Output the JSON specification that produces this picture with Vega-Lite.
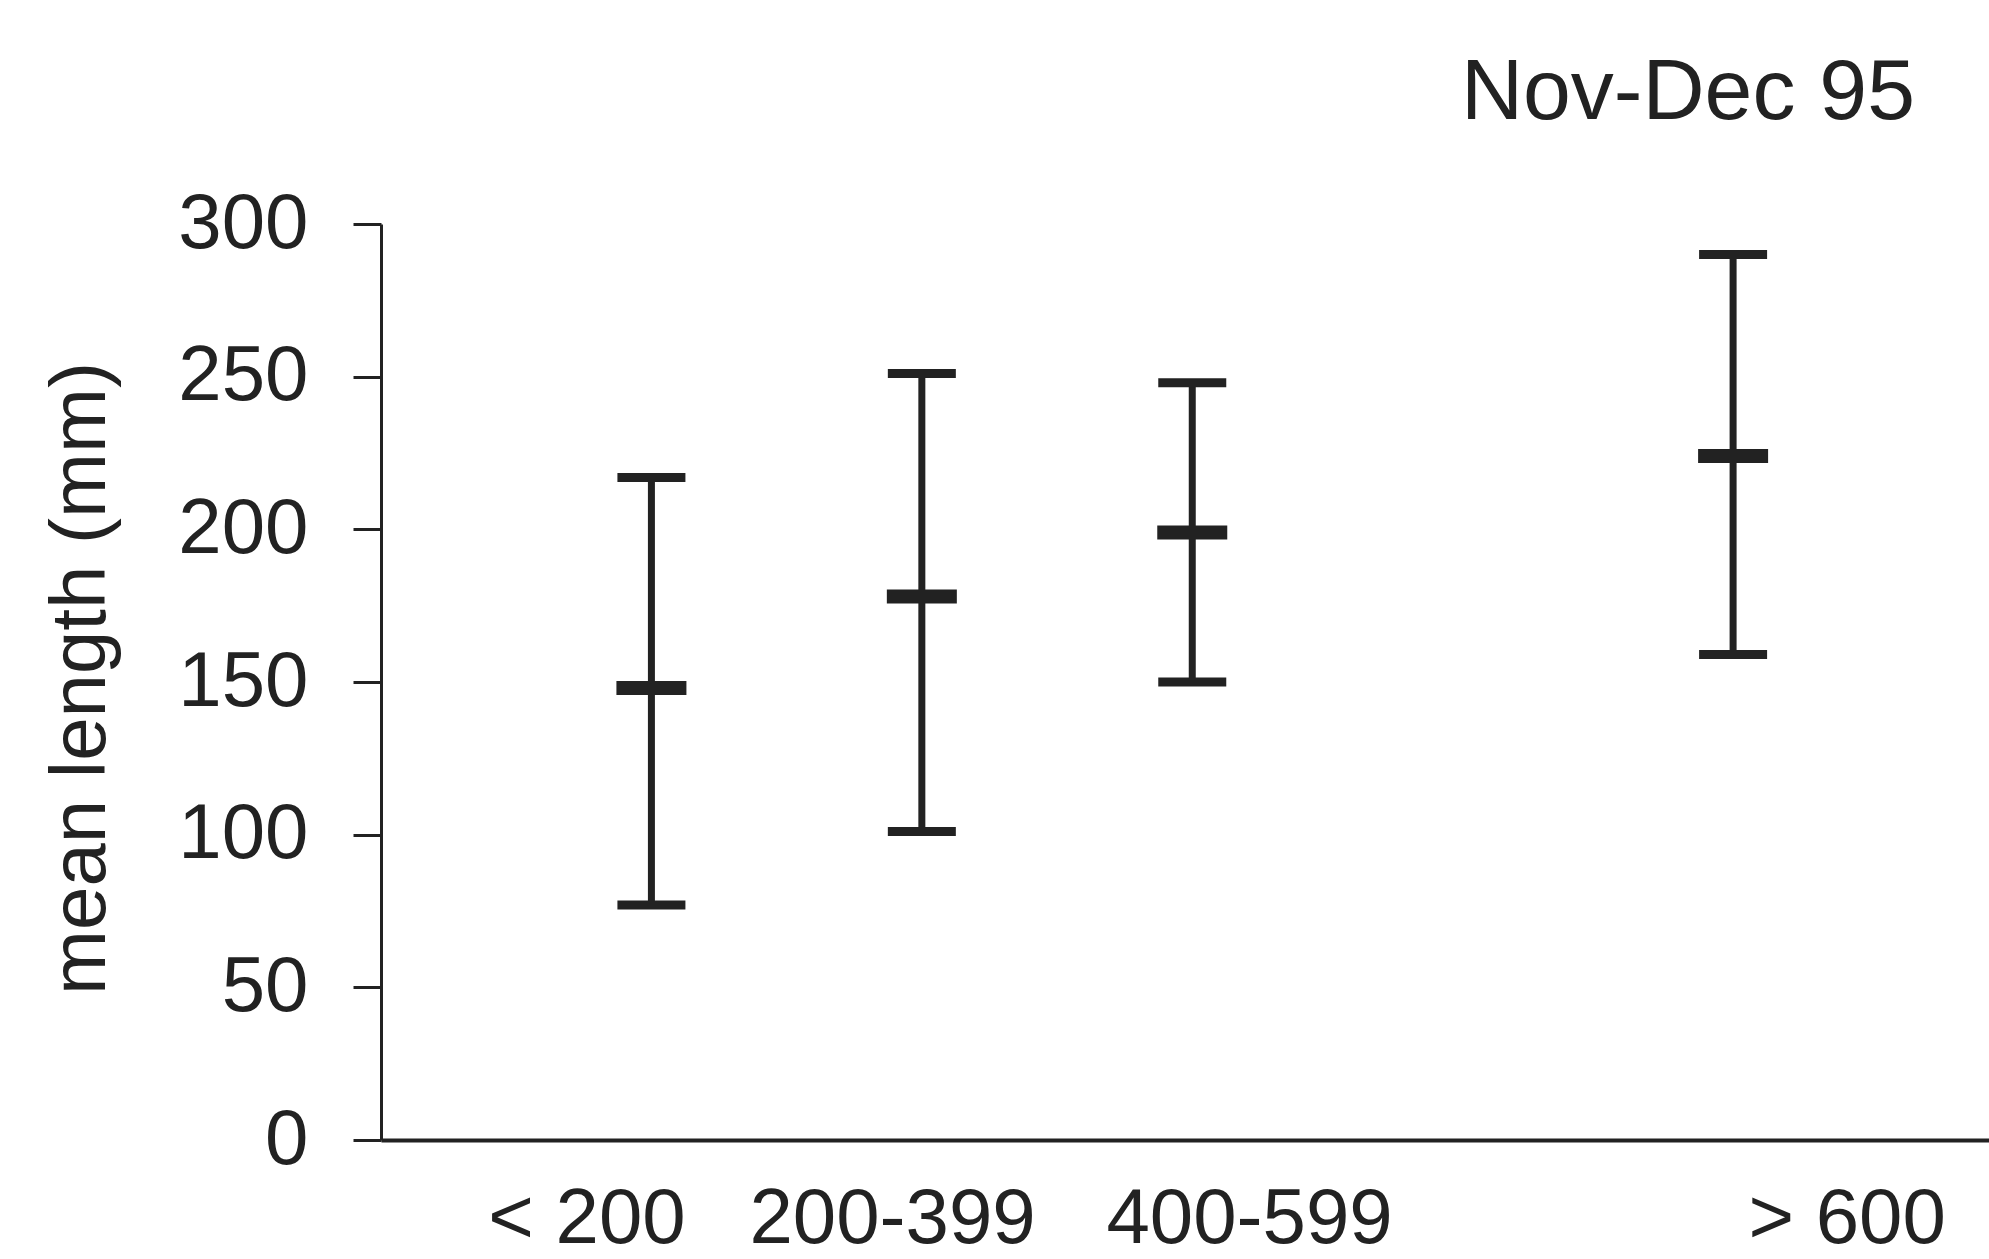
{
  "$schema": "https://vega.github.io/schema/vega-lite/v6.json",
  "width": 1609,
  "height": 916,
  "autosize": {"type": "none"},
  "padding": {"left": 381, "top": 224, "right": 0, "bottom": 119},
  "background": "white",
  "title": {"text": "Nov-Dec 95", "anchor": "end", "frame": "group", "fontSize": 86, "font": "Liberation Sans", "fontWeight": "normal", "color": "#222222", "baseline": "alphabetic", "offset": 101, "dy": 121, "dx": -75},
  "data": {"values": [
    {"cls": "< 200", "pos": 1, "lo": 77, "mean": 148, "hi": 217},
    {"cls": "200-399", "pos": 2, "lo": 101, "mean": 178, "hi": 251},
    {"cls": "400-599", "pos": 3, "lo": 150, "mean": 199, "hi": 248},
    {"cls": "> 600", "pos": 5, "lo": 159, "mean": 224, "hi": 290}
  ]},
  "encoding": {
    "x": {"field": "pos", "type": "quantitative", "scale": {"domain": [0, 5.95], "nice": false, "zero": false},
      "axis": {"title": null, "values": [0.76, 1.89, 3.21, 5.42], "labelLimit": 0, "labelExpr": "datum.value < 1.5 ? '< 200' : datum.value < 2.5 ? '200-399' : datum.value < 4 ? '400-599' : '> 600'"}}
  },
  "layer": [
    {"mark": {"type": "rule", "color": "#222222", "strokeWidth": 7},
     "encoding": {"y": {"field": "lo", "type": "quantitative", "scale": {"domain": [0, 300], "nice": false}, "axis": {"title": "mean length (mm)", "values": [0, 50, 100, 150, 200, 250, 300]}}, "y2": {"field": "hi"}}},
    {"mark": {"type": "tick", "orient": "horizontal", "color": "#222222", "thickness": 9, "size": 68, "opacity": 1},
     "encoding": {"y": {"field": "hi", "type": "quantitative", "axis": {"title": "mean length (mm)", "values": [0, 50, 100, 150, 200, 250, 300]}}}},
    {"mark": {"type": "tick", "orient": "horizontal", "color": "#222222", "thickness": 9, "size": 68, "opacity": 1},
     "encoding": {"y": {"field": "lo", "type": "quantitative", "axis": {"title": "mean length (mm)", "values": [0, 50, 100, 150, 200, 250, 300]}}}},
    {"mark": {"type": "tick", "orient": "horizontal", "color": "#222222", "thickness": 14, "size": 70, "opacity": 1},
     "encoding": {"y": {"field": "mean", "type": "quantitative", "axis": {"title": "mean length (mm)", "values": [0, 50, 100, 150, 200, 250, 300]}}}}
  ],
  "config": {
    "view": {"stroke": null},
    "axis": {"grid": false, "domainColor": "#222222", "tickColor": "#222222", "labelColor": "#222222", "titleColor": "#222222",
      "labelFont": "Liberation Sans", "titleFont": "Liberation Sans", "labelFontSize": 78, "titleFontSize": 78,
      "titleFontWeight": "normal", "labelFlush": false, "labelOverlap": false, "labelBound": false, "labelLimit": 0},
    "axisY": {"tickSize": 28, "tickWidth": 3, "domainWidth": 3, "labelPadding": 45,
      "titleX": -277, "titleY": 454, "titleBaseline": "alphabetic", "titleAngle": -90, "titleAlign": "center"},
    "axisX": {"ticks": false, "domainWidth": 4, "labelPadding": 40}
  }
}
